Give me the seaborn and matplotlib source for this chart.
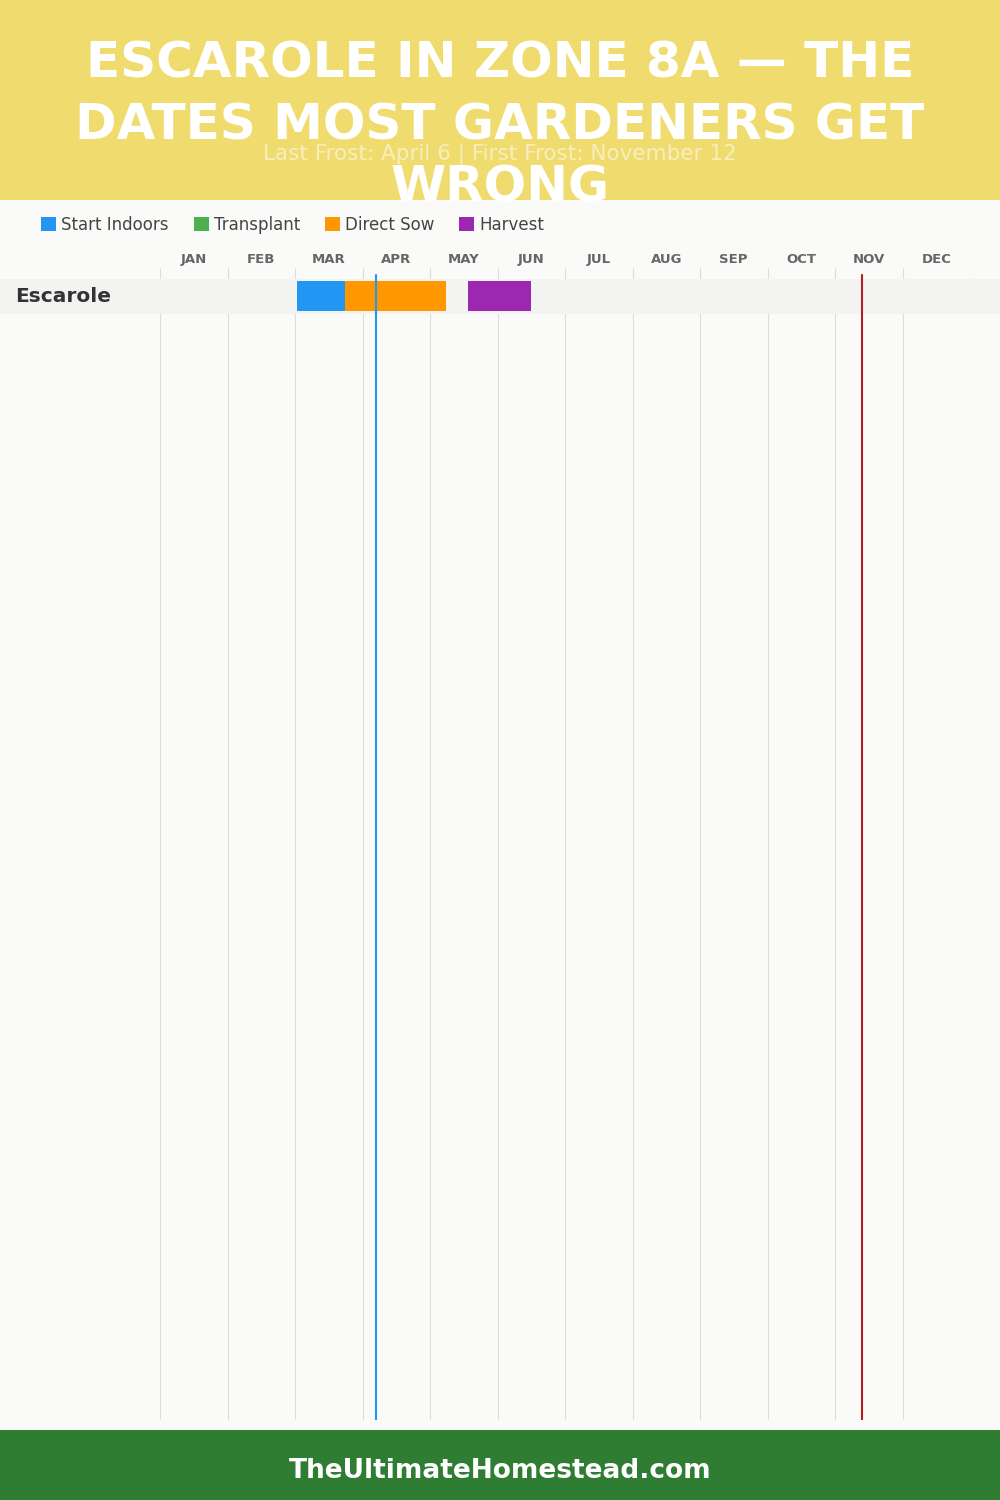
import matplotlib
matplotlib.use("Agg")
import matplotlib.pyplot as plt
import matplotlib.transforms as mtransforms
from matplotlib.patches import Rectangle, Patch
import seaborn as sns
import numpy as np

# --- data ---
months = ["JAN", "FEB", "MAR", "APR", "MAY", "JUN", "JUL", "AUG", "SEP", "OCT", "NOV", "DEC"]
crops = ["Escarole"]
phases = ["Start Indoors", "Transplant", "Direct Sow", "Harvest"]
phase_colors = ["#2196f3", "#4caf50", "#ff9800", "#9c27b0"]

# bars drawn for the crop: (phase, start month idx, start day, end month idx, end day)
bar_phase = ["Start Indoors", "Direct Sow", "Harvest"]
bar_start_month = [2, 2, 4]
bar_start_day = [1, 22, 17]
bar_end_month = [2, 4, 5]
bar_end_day = [23, 7, 15]

last_frost = (3, 6)     # April 6
first_frost = (10, 12)  # November 12


def mpos(m, d):
    return m + d / 30.0


sns.set_theme(style="white")
plt.rcParams["font.family"] = ["DejaVu Sans"]

fig = plt.figure(figsize=(10, 15), dpi=100)
fig.patch.set_facecolor("#fafaf9")

# header and footer bands
fig.add_artist(Rectangle((0, 1 - 200 / 1500), 1, 200 / 1500, transform=fig.transFigure,
                         facecolor="#f0db6e", edgecolor="none", zorder=0))
fig.add_artist(Rectangle((0, 0), 1, 70 / 1500, transform=fig.transFigure,
                         facecolor="#2e7d32", edgecolor="none", zorder=0))

fig.text(0.5, 1 - 154 / 1500, "Last Frost: April 6 | First Frost: November 12",
         ha="center", va="center", color="white", alpha=0.55, fontsize=15.5, zorder=2)
title_lines = ["ESCAROLE IN ZONE 8A \u2014 THE", "DATES MOST GARDENERS GET", "WRONG"]
for i, line in enumerate(title_lines):
    fig.text(0.5, 1 - (63 + 62.5 * i) / 1500, line, ha="center", va="center",
             color="white", fontsize=36, fontweight="heavy", zorder=3)

fig.text(0.5, 1 - 1471 / 1500, "TheUltimateHomestead.com", ha="center", va="center",
         color="white", fontsize=19, fontweight="bold")

# legend
handles = [Patch(facecolor=c, edgecolor="none", label=p) for p, c in zip(phases, phase_colors)]
fig.legend(handles=handles, loc="center left", bbox_to_anchor=(0.026, 1 - 225 / 1500),
           ncol=4, frameon=False, fontsize=12, handlelength=0.9, handleheight=0.9,
           handletextpad=0.3, columnspacing=1.5, labelcolor="#444444")

# chart axes
ax_top, ax_bot = 268, 1420
ax = fig.add_axes([160 / 1000, 1 - ax_bot / 1500, 810 / 1000, (ax_bot - ax_top) / 1500])
ax.set_facecolor("none")
row_px = 35.0
n_units = (ax_bot - ax_top) / row_px
ax.set_xlim(0, len(months))
ax.set_ylim(-0.8 + n_units, -0.8)

for b in range(len(months) + 1):
    ax.axvline(b, color="#dddddd", lw=0.8, zorder=0.5)

band_tr = mtransforms.blended_transform_factory(fig.transFigure, ax.transData)
for r, crop in enumerate(crops):
    ax.add_patch(Rectangle((0, r - 0.5), 1, 1, transform=band_tr, clip_on=False,
                           facecolor="#f3f3f2", edgecolor="none", zorder=1))
    fig.text(15 / 1000, r, crop, transform=band_tr, fontsize=14.5, fontweight="bold",
             color="#333333", va="center", ha="left")

color_of = dict(zip(phases, phase_colors))
for ph, sm, sd, em, ed in zip(bar_phase, bar_start_month, bar_start_day, bar_end_month, bar_end_day):
    s, e = mpos(sm, sd), mpos(em, ed)
    ax.barh(0, e - s, left=s, height=30 / row_px, color=color_of[ph],
            edgecolor="none", linewidth=0, zorder=3)

ytop = 1 - 7 / (ax_bot - ax_top)
ax.axvline(mpos(*last_frost), ymax=ytop, color="#2196f3", lw=1.5, zorder=4)
ax.axvline(mpos(*first_frost), ymax=ytop, color="#b71c1c", lw=1.5, zorder=4)

ax.xaxis.tick_top()
ax.set_xticks(np.arange(len(months)) + 0.5)
ax.set_xticklabels(months, fontsize=9.5, fontweight="bold", color="#666666")
ax.tick_params(axis="x", length=0, pad=1.5)
ax.set_yticks([])
sns.despine(ax=ax, left=True, bottom=True, top=True, right=True)

fig.savefig("out.png", dpi=100)
